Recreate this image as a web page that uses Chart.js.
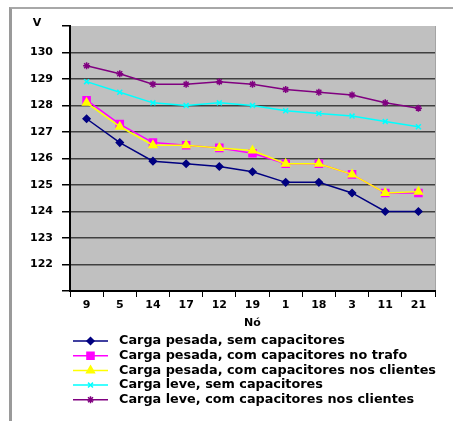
<!DOCTYPE html>
<html>
<head>
<meta charset="utf-8">
<script src="https://cdn.jsdelivr.net/npm/chart.js@4.4.0/dist/chart.umd.min.js"></script>
<style>
  html, body { margin: 0; padding: 0; background: #fff; }
  #wrap { position: relative; width: 453px; height: 421px; }
  #frame { position: absolute; left: 9px; top: 7px; right: 0; bottom: 0;
           border-top: 2px solid #a8a8a8; border-left: 3px solid #9a9a9a; }
  canvas { position: absolute; left: 0; top: 0; }
</style>
</head>
<body>
<div id="wrap">
  <div id="frame"></div>
  <canvas id="chart" width="453" height="421"></canvas>
</div>
<script>
// --- DATA ---
const nodes = ['9', '5', '14', '17', '12', '19', '1', '18', '3', '11', '21'];
const pesadaSem = [127.5, 126.6, 125.9, 125.8, 125.7, 125.5, 125.1, 125.1, 124.7, 124.0, 124.0];
const pesadaTrafo = [128.2, 127.3, 126.6, 126.5, 126.4, 126.2, 125.8, 125.8, 125.4, 124.7, 124.7];
const pesadaClientes = [128.1, 127.2, 126.5, 126.5, 126.4, 126.3, 125.8, 125.8, 125.4, 124.7, 124.75];
const leveSem = [128.9, 128.5, 128.1, 128.0, 128.1, 128.0, 127.8, 127.7, 127.6, 127.4, 127.2];
const leveClientes = [129.5, 129.2, 128.8, 128.8, 128.9, 128.8, 128.6, 128.5, 128.4, 128.1, 127.9];
const seriesNames = [
    'Carga pesada, sem capacitores',
    'Carga pesada, com capacitores no trafo',
    'Carga pesada, com capacitores nos clientes',
    'Carga leve, sem capacitores',
    'Carga leve, com capacitores nos clientes'
];
const yMin = 121, yMax = 131;

const FONT = 'DejaVu Sans';

function makeSet(i, data, color, style, radius) {
    return {
        label: seriesNames[i],
        data: data,
        borderColor: color,
        backgroundColor: color,
        pointBackgroundColor: color,
        pointBorderColor: color,
        pointStyle: style,
        pointRadius: radius,
        pointBorderWidth: 1.5,
        borderWidth: 1.5,
        tension: 0,
        order: 10 - i
    };
}

// --- PLUGINS ---
const plotBg = {
    id: 'plotBg',
    beforeDraw(chart) {
        const { ctx, chartArea: a } = chart;
        ctx.save();
        ctx.fillStyle = '#c0c0c0';
        ctx.fillRect(a.left, a.top, a.right - a.left, a.bottom - a.top);
        ctx.strokeStyle = '#a4a4a4';
        ctx.lineWidth = 1;
        ctx.beginPath();
        ctx.moveTo(a.right + 0.5, a.top);
        ctx.lineTo(a.right + 0.5, a.bottom);
        ctx.stroke();
        ctx.restore();
    },
    afterDraw(chart) {
        const ctx = chart.ctx;
        ctx.save();
        ctx.fillStyle = '#000';
        ctx.font = 'bold 11px "' + FONT + '"';
        ctx.textAlign = 'center';
        ctx.textBaseline = 'middle';
        ctx.fillText('V', 37, 23);
        ctx.restore();
    }
};

// legend under the plot, one row per series, text stretched a little like the original
const sideLegend = {
    id: 'sideLegend',
    afterDraw(chart) {
        const ctx = chart.ctx;
        const textX = 119, textRight = 436;
        ctx.save();
        ctx.font = 'bold 12.5px "' + FONT + '"';
        let widest = 0;
        chart.data.datasets.forEach(ds => { widest = Math.max(widest, ctx.measureText(ds.label).width); });
        const sx = (textRight - textX) / widest;

        chart.data.datasets.forEach((ds, i) => {
            const y = 341 + i * 14.7;
            ctx.strokeStyle = ds.borderColor;
            ctx.lineWidth = 1.5;
            ctx.beginPath();
            ctx.moveTo(73, y);
            ctx.lineTo(108, y);
            ctx.stroke();
            ctx.fillStyle = ds.pointBackgroundColor;
            Chart.helpers.drawPoint(ctx, {
                pointStyle: ds.pointStyle,
                radius: ds.pointRadius,
                borderWidth: 1.5,
                rotation: 0
            }, 90.5, y);

            ctx.save();
            ctx.translate(textX, y);
            ctx.scale(sx, 1);
            ctx.fillStyle = '#000';
            ctx.textAlign = 'left';
            ctx.textBaseline = 'middle';
            ctx.fillText(ds.label, 0, 0);
            ctx.restore();
        });
        ctx.restore();
    }
};

// --- CHART ---
new Chart(document.getElementById('chart'), {
    type: 'line',
    data: {
        labels: nodes,
        datasets: [
            makeSet(0, pesadaSem, '#000080', 'rectRot', 3.5),
            makeSet(1, pesadaTrafo, '#ff00ff', 'rect', 5),
            makeSet(2, pesadaClientes, '#ffff00', 'triangle', 4.5),
            makeSet(3, leveSem, '#00ffff', 'crossRot', 3.5),
            makeSet(4, leveClientes, '#800080', 'star', 3.5)
        ]
    },
    options: {
        responsive: false,
        animation: false,
        layout: { padding: { left: 26, top: 26, right: 18, bottom: 90 } },
        plugins: {
            legend: { display: false },
            tooltip: { enabled: false }
        },
        scales: {
            x: {
                offset: true,
                afterFit: (scale) => { scale.height = 40; },
                grid: {
                    offset: true,
                    drawOnChartArea: false,
                    tickLength: 6,
                    color: '#000',
                    tickColor: '#000'
                },
                border: { color: '#000', width: 2 },
                ticks: {
                    padding: 2,
                    color: '#000',
                    font: { family: FONT, size: 11, weight: 'bold' }
                },
                title: {
                    display: true,
                    text: 'Nó',
                    color: '#000',
                    padding: { top: 0, bottom: 1 },
                    font: { family: FONT, size: 11, weight: 'bold' }
                }
            },
            y: {
                min: yMin,
                max: yMax,
                afterFit: (scale) => { scale.width = 44; },
                grid: {
                    color: (c) => (c.tick && c.tick.value === yMax) ? 'rgba(0,0,0,0)' : '#404040',
                    tickColor: '#000',
                    lineWidth: 1.5,
                    tickLength: 8
                },
                border: { color: '#000', width: 2 },
                ticks: {
                    stepSize: 1,
                    padding: 9,
                    color: '#000',
                    font: { family: FONT, size: 11, weight: 'bold' },
                    callback: (v) => (v === yMin || v === yMax) ? '' : v
                }
            }
        }
    },
    plugins: [plotBg, sideLegend]
});
</script>
</body>
</html>
